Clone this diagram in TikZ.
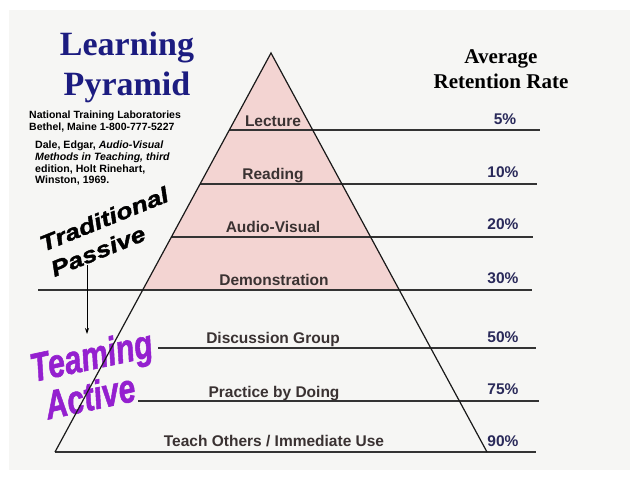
\documentclass[tikz,border=0pt]{standalone}
\usepackage{fontspec}
\setmainfont{Liberation Sans}
\newfontfamily\serifhead{Liberation Serif}
\newfontfamily\heavytag[FakeBold=1.5]{Liberation Sans}
\usetikzlibrary{
  arrows.meta,
  positioning,
  calc
}
\definecolor{lpNavy}{HTML}{1C1C80}
\definecolor{lpPink}{HTML}{F3D4D2}
\definecolor{lpPurple}{HTML}{9420CF}
\definecolor{lpRate}{HTML}{2A2A5A}
\definecolor{lpText}{HTML}{3A3232}
\definecolor{lpBack}{HTML}{F6F6F4}

\tikzset{
  level/.style={font=\fontsize{15.5}{17}\selectfont\bfseries, text=lpText, inner sep=0pt, anchor=base},
  rate/.style={font=\fontsize{15.5}{17}\selectfont\bfseries, text=lpRate, inner sep=0pt, anchor=base},
  band/.style={draw=black!80, line width=1.3pt},
  edge/.style={draw=black!90, line width=1.2pt},
  heading/.style={font=\serifhead\bfseries\fontsize{34}{36}\selectfont, text=lpNavy, inner sep=0pt, anchor=base},
  colhead/.style={font=\serifhead\bfseries\fontsize{21}{23}\selectfont, inner sep=0pt, anchor=base},
  refnote/.style={font=\bfseries\fontsize{10.5}{12}\selectfont, align=left, inner sep=0pt, anchor=north west},
  passivetag/.style={font=\heavytag\bfseries\itshape\fontsize{22}{24}\selectfont, inner sep=0pt, rotate=22, xscale=1.22},
  activetag/.style={font=\heavytag\bfseries\itshape\fontsize{40}{42}\selectfont, text=lpPurple, inner sep=0pt, rotate=12, xscale=0.76}
}

\begin{document}
\begin{tikzpicture}[x=1pt, y=-1pt]
  \fill[white] (0,0) rectangle (638,479);
  \fill[lpBack] (9,10) rectangle (630,470);

  \coordinate (apex) at (271,53);
  \coordinate (bl) at (55,452);
  \coordinate (br) at (487,452);

  % passive part of the pyramid
  \fill[lpPink] (apex) -- ($(apex)!{237/399}!(bl)$) -- ($(apex)!{237/399}!(br)$) -- cycle;

  % band lines
  \foreach \y/\xl/\xr in {130/229/540, 184/200/537, 237/171/533, 290/38/532, 348/158/536, 401/138/539, 452/55/536}
    \draw[band] (\xl,\y) -- (\xr,\y);

  % titles
  \node[heading] (learning) at (127,55) {Learning};
  \node[heading] (pyramid) at (127,95) {Pyramid};
  \node[colhead] (average) at (501,63) {Average};
  \node[colhead] (retention) at (501,88) {Retention Rate};

  \node[refnote] (ntl) at (29,111) {National Training Laboratories\\Bethel, Maine 1-800-777-5227};
  \node[refnote, font=\bfseries\fontsize{10.6}{11.7}\selectfont] (dale) at (35,141)
    {Dale, Edgar, \textit{Audio-Visual}\\\textit{Methods in Teaching, third}\\edition, Holt Rinehart,\\Winston, 1969.};

  % levels
  \node[level] (lecture) at (273,126) {Lecture};
  \node[level] (reading) at (273,179) {Reading};
  \node[level] (audio) at (273,232) {Audio-Visual};
  \node[level] (demo) at (274,285) {Demonstration};
  \node[level] (discussion) at (273,343) {Discussion Group};
  \node[level] (practice) at (274,397) {Practice by Doing};
  \node[level] (teach) at (274,446) {Teach Others / Immediate Use};

  % rates
  \node[rate] (r5) at (505,124) {5\%};
  \node[rate] (r10) at (503,177) {10\%};
  \node[rate] (r20) at (503,229) {20\%};
  \node[rate] (r30) at (503,283) {30\%};
  \node[rate] (r50) at (503,342) {50\%};
  \node[rate] (r75) at (503,394) {75\%};
  \node[rate] (r90) at (503,446) {90\%};

  % traditional / passive
  \node[passivetag] (traditional) at (104,219) {Traditional};
  \node[passivetag] (passive) at (98,251) {Passive};
  \coordinate (arrowtop) at (87,265);
  \coordinate (arrowtip) at (87,334);
  \draw[-{Stealth[length=6pt, width=4pt]}, line width=0.8pt] (arrowtop) -- (arrowtip);

  % teaming / active
  \node[activetag] (teaming) at (92,359) {Teaming};
  \node[activetag] (active) at (90,396) {Active};

  % pyramid outline
  \draw[edge] (bl) -- (apex) -- (br);
\end{tikzpicture}
\end{document}
